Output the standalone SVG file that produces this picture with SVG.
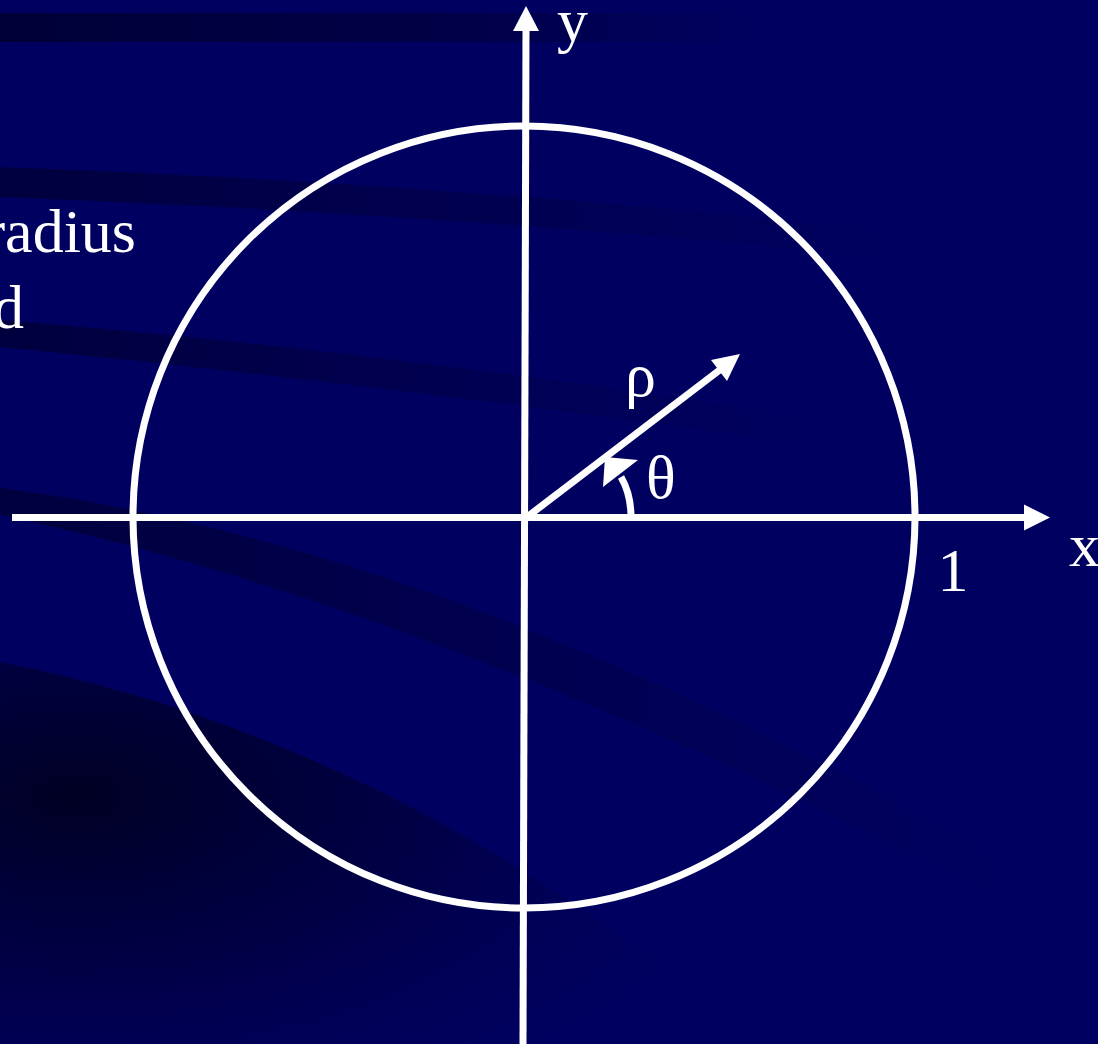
<svg xmlns="http://www.w3.org/2000/svg" width="1098" height="1044" viewBox="0 0 1098 1044">
<defs>
<linearGradient id="fadeR" x1="0" y1="0" x2="1" y2="0">
<stop offset="0" stop-color="#000030" stop-opacity="0.85"/>
<stop offset="0.6" stop-color="#000030" stop-opacity="0.5"/>
<stop offset="1" stop-color="#000030" stop-opacity="0"/>
</linearGradient>
<linearGradient id="fadeS" x1="0" y1="0" x2="1" y2="0">
<stop offset="0" stop-color="#000030" stop-opacity="0.7"/>
<stop offset="0.5" stop-color="#000030" stop-opacity="0.35"/>
<stop offset="1" stop-color="#000030" stop-opacity="0"/>
</linearGradient>
<radialGradient id="swoosh" cx="0.1" cy="0.35" r="0.9">
<stop offset="0" stop-color="#000020" stop-opacity="0.95"/>
<stop offset="0.5" stop-color="#000030" stop-opacity="0.55"/>
<stop offset="1" stop-color="#000040" stop-opacity="0"/>
</radialGradient>
</defs>
<style>
.ax{stroke:#fff;stroke-width:7;fill:none}
.head{fill:#fff}
.lbl{font-family:"Liberation Serif","Times New Roman",serif;font-size:62px;fill:#fff}
</style>
<g id="background">
<rect width="1098" height="1044" fill="#000060"/>
<rect x="0" y="13" width="760" height="29" fill="url(#fadeR)"/>
<path d="M0,167 Q450,183 900,232 L900,258 Q450,214 0,197 Z" fill="url(#fadeS)"/>
<path d="M0,320 Q400,352 820,420 L820,446 Q400,386 0,347 Z" fill="url(#fadeS)"/>
<path d="M0,488 Q450,545 1000,860 L1000,900 Q450,610 0,515 Z" fill="url(#fadeS)"/>
<path d="M0,662 Q400,740 760,1044 L0,1044 Z" fill="url(#swoosh)"/>
</g>
<g id="text-left">
<text class="lbl" x="136" y="252" text-anchor="end">radius</text>
<text class="lbl" x="24" y="328" text-anchor="end">d</text>
</g>
<g id="unit-circle">
<circle cx="524" cy="517" r="391" class="ax"/>
</g>
<g id="connectors">
<line class="ax" x1="12" y1="517.5" x2="1026" y2="517.5"/>
<polygon class="head" points="1050,517.5 1024,504.5 1024,530.5"/>
<line class="ax" x1="523" y1="1044" x2="526" y2="28"/>
<polygon class="head" points="526,6 513,31 539,31"/>
<line class="ax" x1="527" y1="517" x2="721" y2="369"/>
<polygon class="head" points="740,354 727,381 711,360"/>
<path class="ax" d="M631,517 C631,500 628,489 621,477"/>
<polygon class="head" points="605,457 638,460 603,487"/>
</g>
<g id="labels">
<text class="lbl" x="557" y="41">y</text>
<text class="lbl" x="1069" y="566">x</text>
<text class="lbl" x="953" y="591" text-anchor="middle">1</text>
<text class="lbl" x="625" y="396">ρ</text>
<text class="lbl" x="646" y="498">θ</text>
</g>
</svg>
